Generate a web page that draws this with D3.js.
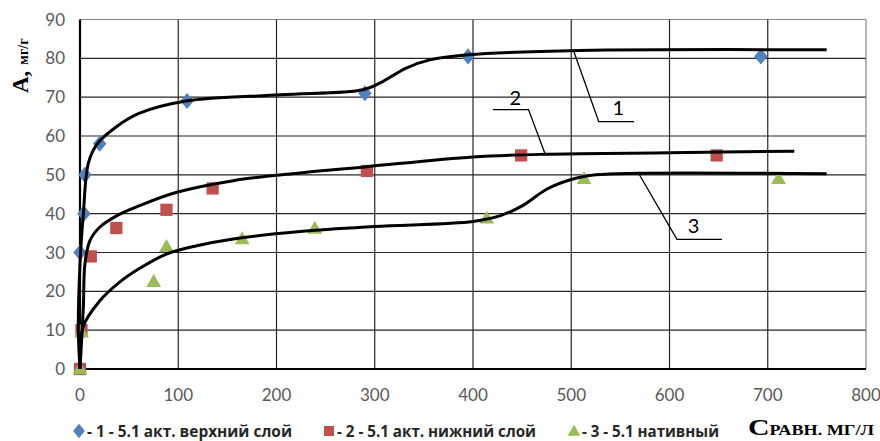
<!doctype html>
<html>
<head>
<meta charset="utf-8">
<style>
  body { margin: 0; background: #fff; }
  .tick-label { font-family: Lato, "Open Sans", sans-serif; font-size: 17px; fill: #595959; }
  .legend-text { font-family: "Liberation Sans Narrow", "Open Sans", sans-serif; font-weight: bold; font-size: 16px; fill: #262626; }
  .title { font-family: "Liberation Serif", "DejaVu Serif", serif; font-weight: bold; fill: #000; }
  .num-label { font-family: Lato, "Open Sans", sans-serif; font-size: 20px; fill: #000; }
</style>
<script src="https://d3js.org/d3.v7.min.js"></script>
</head>
<body>
<svg id="svg" width="880" height="441"></svg>
<script>
// measured points
var s1x = [0, 4, 5, 20, 109, 290, 395, 693];
var s1y = [30, 40, 50, 58, 69, 71, 80.5, 80.5];
var s2x = [0, 1.5, 11, 37, 88, 135, 292, 449, 648];
var s2y = [0, 10, 29, 36.3, 41, 46.5, 51, 55, 55];
var s3x = [0, 1.5, 75, 88, 165, 239, 414, 513, 711];
var s3y = [0, 9.5, 22.5, 31.5, 33.5, 36.2, 38.8, 49, 49];

// hand drawn trend curves
var c1x = [0, -1.7, 0, 3.4, 8.5, 17, 35, 60, 108, 204, 288, 305, 332, 356, 395, 509, 760];
var c1y = [0, 10, 27, 40, 53, 57.8, 62, 65.8, 69, 70.6, 71.9, 73.6, 77.5, 79.6, 80.9, 82, 82.2];
var c2x = [0, 3.4, 5, 10, 20, 40, 60, 98.5, 156, 224, 292, 400, 474, 509, 600, 727];
var c2y = [0, 16, 27, 33, 36.5, 39.8, 42, 45.5, 48.5, 50.5, 52.1, 54.6, 55.3, 55.4, 55.7, 56.1];
var c3x = [0, 3.4, 20, 40, 60, 88, 120, 156, 224, 300, 400, 428, 450, 475, 500, 525, 568, 760];
var c3y = [0, 11, 17.5, 22.3, 25.8, 29.6, 31.8, 33.5, 35.4, 36.7, 38, 39.5, 42, 46.3, 48.8, 50, 50.4, 50.3];

var xTicks = [0, 100, 200, 300, 400, 500, 600, 700, 800];
var yTicks = [0, 10, 20, 30, 40, 50, 60, 70, 80, 90];

var legendNames = ["- 1 - 5.1 акт. верхний слой", "- 2 - 5.1 акт. нижний слой", "- 3 - 5.1 нативный"];
var colors = ["#4F81BD", "#C0504D", "#9BBB59"];

// curve labels: text, leader line (data units)
var labelText = ["1", "2", "3"];
var labelPos = [[548, 67.2], [443, 69.8], [624.5, 36.7]];
var leaders = [
  [[502, 82.2], [528, 63.7], [564, 63.7]],
  [[473.5, 55.3], [456.5, 66.8], [420.3, 66.8]],
  [[568.5, 50.4], [607.6, 33.4], [653.4, 33.4]]
];

var svg = d3.select("#svg");
var x = d3.scaleLinear().domain([0, 800]).range([80, 866]);
var y = d3.scaleLinear().domain([0, 90]).range([369, 19.5]);

// grid
svg.selectAll(".hgrid").data(yTicks.slice(1)).enter().append("line")
  .attr("x1", x(0)).attr("x2", x(800))
  .attr("y1", function(d) { return y(d); }).attr("y2", function(d) { return y(d); })
  .attr("stroke", function(d) { return d == 90 ? "#888" : "#262626"; })
  .attr("stroke-width", 1.2);
svg.selectAll(".vgrid").data(xTicks.slice(1)).enter().append("line")
  .attr("y1", y(0)).attr("y2", y(90))
  .attr("x1", function(d) { return x(d); }).attr("x2", function(d) { return x(d); })
  .attr("stroke", function(d) { return d == 800 ? "#888" : "#262626"; })
  .attr("stroke-width", 1.2);

// axes
svg.append("line").attr("x1", x(0)).attr("x2", x(800)).attr("y1", y(0)).attr("y2", y(0))
  .attr("stroke", "#000").attr("stroke-width", 2.2);
svg.append("line").attr("x1", x(0)).attr("x2", x(0)).attr("y1", y(0)).attr("y2", y(90))
  .attr("stroke", "#000").attr("stroke-width", 2.2);

svg.selectAll(".ylab").data(yTicks).enter().append("text")
  .attr("class", "tick-label")
  .attr("x", 65).attr("y", function(d) { return y(d) + 6; })
  .attr("text-anchor", "end")
  .text(function(d) { return d; });
svg.selectAll(".xlab").data(xTicks).enter().append("text")
  .attr("class", "tick-label")
  .attr("x", function(d) { return x(d); }).attr("y", 401)
  .attr("text-anchor", "middle")
  .text(function(d) { return d; });

// markers
function zip(a, b) { return a.map(function(v, i) { return [v, b[i]]; }); }

var diamond = d3.symbol().type(d3.symbolDiamond).size(75);
var square = d3.symbol().type(d3.symbolSquare).size(150);
var triangle = d3.symbol().type(d3.symbolTriangle).size(95);

svg.selectAll(".m1").data(zip(s1x, s1y)).enter().append("path")
  .attr("d", diamond)
  .attr("transform", function(d) { return "translate(" + x(d[0]) + "," + y(d[1]) + ") scale(1.45,1)"; })
  .attr("fill", colors[0]);
svg.selectAll(".m2").data(zip(s2x, s2y)).enter().append("path")
  .attr("d", square)
  .attr("transform", function(d) { return "translate(" + x(d[0]) + "," + y(d[1]) + ")"; })
  .attr("fill", colors[1]);
svg.selectAll(".m3").data(zip(s3x, s3y)).enter().append("path")
  .attr("d", triangle)
  .attr("transform", function(d) { return "translate(" + x(d[0]) + "," + (y(d[1]) + 1) + ")"; })
  .attr("fill", colors[2]);

// curves
var line = d3.line()
  .x(function(d) { return x(d[0]); })
  .y(function(d) { return y(d[1]); })
  .curve(d3.curveCatmullRom.alpha(0.5));

[zip(c1x, c1y), zip(c2x, c2y), zip(c3x, c3y)].forEach(function(pts) {
  svg.append("path").datum(pts).attr("d", line)
    .attr("fill", "none").attr("stroke", "#000").attr("stroke-width", 3);
});

// leader lines and numbers
var straight = d3.line().x(function(d) { return x(d[0]); }).y(function(d) { return y(d[1]); });
leaders.forEach(function(pts, i) {
  svg.append("path").attr("d", straight(pts))
    .attr("fill", "none").attr("stroke", "#000").attr("stroke-width", 1.3);
  svg.append("text").attr("class", "num-label")
    .attr("x", x(labelPos[i][0])).attr("y", y(labelPos[i][1]) + 7)
    .attr("text-anchor", "middle")
    .text(labelText[i]);
});

// legend
var legX = [79, 329, 574];
var legW = [205, 199, 137];
svg.append("path").attr("d", d3.symbol().type(d3.symbolDiamond).size(60)).attr("fill", colors[0])
  .attr("transform", "translate(" + legX[0] + ",431) scale(1.4,1)");
svg.append("path").attr("d", d3.symbol().type(d3.symbolSquare).size(100)).attr("fill", colors[1])
  .attr("transform", "translate(" + legX[1] + ",431)");
svg.append("path").attr("d", d3.symbol().type(d3.symbolTriangle).size(70)).attr("fill", colors[2])
  .attr("transform", "translate(" + legX[2] + ",432)");
legendNames.forEach(function(n, i) {
  svg.append("text").attr("class", "legend-text")
    .attr("x", legX[i] + 8).attr("y", 437)
    .attr("textLength", legW[i]).attr("lengthAdjust", "spacingAndGlyphs")
    .text(n);
});

// axis titles
var yt = svg.append("text").attr("class", "title")
  .attr("transform", "translate(28,93) rotate(-90)");
yt.append("tspan").attr("font-size", 23).text("A,");
yt.append("tspan").attr("font-size", 14).attr("dx", 6).text("мг/г");

var xt = svg.append("text").attr("class", "title").attr("x", 748).attr("y", 435)
  .attr("textLength", 126).attr("lengthAdjust", "spacingAndGlyphs");
xt.append("tspan").attr("font-size", 23).text("С");
xt.append("tspan").attr("font-size", 14).text("РАВН. МГ/Л");
</script>
</body>
</html>
